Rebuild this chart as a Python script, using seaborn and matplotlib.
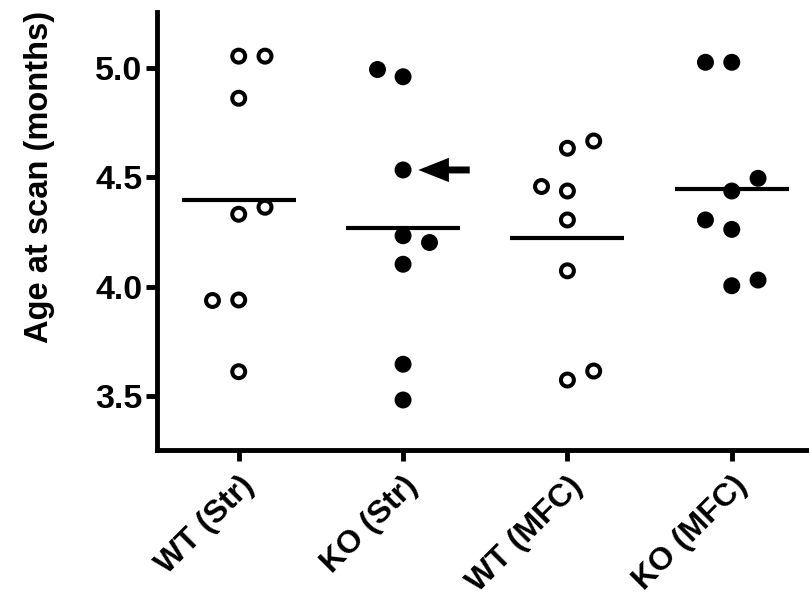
import matplotlib
matplotlib.use("Agg")
import matplotlib.pyplot as plt
import matplotlib.transforms as mtransforms
import seaborn as sns
import pandas as pd

# ---- data ----
groups = ["WT (Str)", "KO (Str)", "WT (MFC)", "KO (MFC)"]
genotype = ["WT", "KO", "WT", "KO"]

wt_str = [5.052, 5.052, 4.860, 4.331, 4.363, 3.940, 3.940, 3.613]
ko_str = [4.992, 4.958, 4.533, 4.233, 4.203, 4.103, 3.647, 3.484]
wt_mfc = [4.632, 4.665, 4.461, 4.437, 4.305, 4.073, 3.575, 3.616]
ko_mfc = [5.024, 5.024, 4.495, 4.437, 4.305, 4.262, 4.005, 4.031]

# dot column within each group (Prism-style scatter layout)
wt_str_col = ["C", "R", "C", "C", "R", "L", "C", "C"]
ko_str_col = ["L", "C", "C", "C", "R", "C", "C", "C"]
wt_mfc_col = ["C", "R", "L", "C", "C", "C", "C", "R"]
ko_mfc_col = ["L", "C", "R", "C", "L", "C", "C", "R"]

arrow_group = "KO (Str)"
arrow_value = 4.533

y_ticks = [3.5, 4.0, 4.5, 5.0]
y_label = "Age at scan (months)"

# ---- table ----
values = [wt_str, ko_str, wt_mfc, ko_mfc]
cols = [wt_str_col, ko_str_col, wt_mfc_col, ko_mfc_col]
rows = []
for g, gt, vals, cs in zip(groups, genotype, values, cols):
    for v, c in zip(vals, cs):
        rows.append({"group": g, "genotype": gt, "age": v, "column": c})
df = pd.DataFrame(rows)

# ---- style ----
sns.set_style("ticks")
plt.rcParams["font.family"] = ["Liberation Sans", "DejaVu Sans"]
plt.rcParams["font.weight"] = "bold"
plt.rcParams["axes.labelweight"] = "bold"
for key in ["text.color", "axes.labelcolor", "xtick.color", "ytick.color",
            "axes.edgecolor", "xtick.labelcolor", "ytick.labelcolor"]:
    plt.rcParams[key] = "black"

fig = plt.figure(figsize=(8.09, 6.04), dpi=100)
ax = fig.add_axes([0.1935, 0.255, 0.8065, 0.725])

col_order = ["LL", "L", "C", "R", "RR"]
lw = 3.5

sns.stripplot(data=df[df.genotype == "WT"], x="group", y="age", order=groups,
              hue="column", hue_order=col_order, dodge=True, jitter=False,
              palette={c: "white" for c in col_order}, edgecolor="black",
              linewidth=2.9, size=9.3, legend=False, ax=ax, zorder=3)
sns.stripplot(data=df[df.genotype == "KO"], x="group", y="age", order=groups,
              hue="column", hue_order=col_order, dodge=True, jitter=False,
              palette={c: "black" for c in col_order}, edgecolor="black",
              linewidth=2.9, size=9.3, legend=False, ax=ax, zorder=3)

# mean lines
sns.pointplot(data=df, x="group", y="age", order=groups, estimator="mean",
              errorbar=None, markers="_", linestyles="none", color="black",
              markersize=82, markeredgewidth=3.0, ax=ax, zorder=4)

# arrow pointing at the highlighted animal
gi = groups.index(arrow_group)
head_tr = mtransforms.offset_copy(ax.transData, fig=fig, x=11, y=0, units="points")
ax.annotate("", xy=(gi, arrow_value), xycoords=head_tr,
            xytext=(37, 0), textcoords="offset points",
            arrowprops=dict(width=5, headwidth=17.5, headlength=22,
                            facecolor="black", edgecolor="none", shrink=0))

# ---- axes ----
ax.set_xlim(-0.5, 3.47)
ax.set_ylim(3.256, 5.253)
ax.set_yticks(y_ticks)
ax.set_yticklabels([f"{t:.1f}" for t in y_ticks])
ax.set_xlabel("")
ax.set_ylabel(y_label, fontsize=23.5, fontweight="bold", color="black")
ax.yaxis.set_label_coords(-0.155, 0.623)

for side in ["top", "right"]:
    ax.spines[side].set_visible(False)
for side in ["left", "bottom"]:
    ax.spines[side].set_linewidth(lw)
    ax.spines[side].set_color("black")
ax.tick_params(axis="both", length=8, width=lw, colors="black")
ax.tick_params(axis="y", pad=2, labelsize=24.5)
ax.tick_params(axis="x", pad=7, labelsize=23)
for lab in ax.get_xticklabels():
    lab.set_rotation(45)
    lab.set_ha("right")
    lab.set_rotation_mode("anchor")
    lab.set_fontweight("bold")
for lab in ax.get_yticklabels():
    lab.set_fontweight("bold")

fig.savefig("out.png", dpi=100)
